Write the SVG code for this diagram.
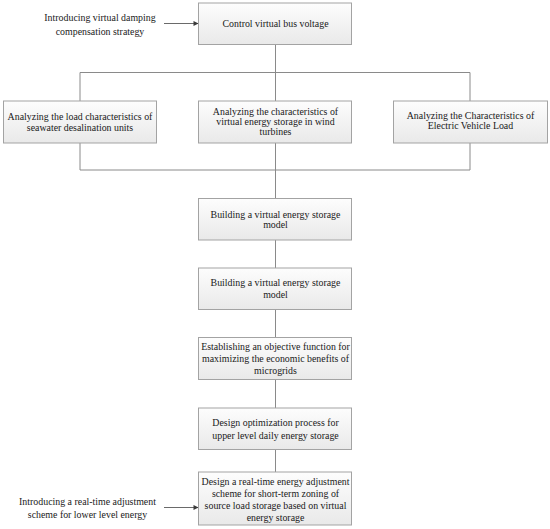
<svg xmlns="http://www.w3.org/2000/svg" width="550" height="529" viewBox="0 0 550 529">
<defs>
<linearGradient id="g" x1="0" y1="0" x2="0" y2="1">
<stop offset="0" stop-color="#fdfdfd"/>
<stop offset="1" stop-color="#e9e9e9"/>
</linearGradient>
<marker id="ah" viewBox="0 0 10 10" refX="10" refY="5" markerWidth="7" markerHeight="5" markerUnits="userSpaceOnUse" orient="auto">
<path d="M0,0 L10,5 L0,10 z" fill="#3a3a3a"/>
</marker>
</defs>
<style>
.box{fill:url(#g);stroke:#a3a3a3;stroke-width:1}
.t{font-family:"Liberation Serif","Times New Roman",serif;font-size:9.9px;fill:#1a1a1a;text-anchor:middle}
.c{stroke:#8a8a8a;stroke-width:1;fill:none}
.a{stroke:#6a6a6a;stroke-width:1;fill:none;marker-end:url(#ah)}
</style>
<rect width="550" height="529" fill="#ffffff"/>
<g id="connectors">
<path class="c" d="M275.5,44.5 V72.5 M80,72.5 H470 M80,72.5 V101 M275.5,72.5 V101 M470,72.5 V101"/>
<path class="c" d="M80,143 V170 M275.5,143 V170 M470,143 V170 M80,170 H470 M275.5,170 V198.5"/>
<path class="c" d="M275.5,240 V268 M275.5,309.5 V337.5 M275.5,379.5 V408 M275.5,449.5 V472"/>
<path class="a" d="M164,23.5 H198.5"/>
<path class="a" d="M164,507.5 H198.5"/>
</g>
<g id="note-top">
<text class="t" x="100" y="21">Introducing virtual damping</text>
<text class="t" x="100" y="34.5">compensation strategy</text>
</g>
<g id="note-bottom">
<text class="t" x="87.5" y="504.5">Introducing a real-time adjustment</text>
<text class="t" x="87.5" y="517.5">scheme for lower level energy</text>
</g>
<g id="n1">
<rect class="box" x="198.5" y="3" width="153" height="41.5"/>
<text class="t" x="275.5" y="27">Control virtual bus voltage</text>
</g>
<g id="n2">
<rect class="box" x="3.5" y="101" width="153" height="42"/>
<text class="t" x="80" y="119.5">Analyzing the load characteristics of</text>
<text class="t" x="80" y="130.5">seawater desalination units</text>
</g>
<g id="n3">
<rect class="box" x="198.5" y="101" width="153" height="42"/>
<text class="t" x="275.5" y="114.7">Analyzing the characteristics of</text>
<text class="t" x="275.5" y="124.7">virtual energy storage in wind</text>
<text class="t" x="275.5" y="134.7">turbines</text>
</g>
<g id="n4">
<rect class="box" x="393.5" y="101" width="154" height="42"/>
<text class="t" x="470.5" y="119.2">Analyzing the Characteristics of</text>
<text class="t" x="470.5" y="129.2">Electric Vehicle Load</text>
</g>
<g id="n5">
<rect class="box" x="198.5" y="198.5" width="153" height="41.5"/>
<text class="t" x="275.5" y="217.5">Building a virtual energy storage</text>
<text class="t" x="275.5" y="228">model</text>
</g>
<g id="n6">
<rect class="box" x="198.5" y="268" width="153" height="41.5"/>
<text class="t" x="275.5" y="286">Building a virtual energy storage</text>
<text class="t" x="275.5" y="297.5">model</text>
</g>
<g id="n7">
<rect class="box" x="198.5" y="337.5" width="153" height="42"/>
<text class="t" x="275.5" y="350">Establishing an objective function for</text>
<text class="t" x="275.5" y="362">maximizing the economic benefits of</text>
<text class="t" x="275.5" y="374">microgrids</text>
</g>
<g id="n8">
<rect class="box" x="198.5" y="408" width="153" height="41.5"/>
<text class="t" x="275.5" y="426">Design optimization process for</text>
<text class="t" x="275.5" y="438.5">upper level daily energy storage</text>
</g>
<g id="n9">
<rect class="box" x="198.5" y="472" width="153" height="53"/>
<text class="t" x="275.5" y="484.5">Design a real-time energy adjustment</text>
<text class="t" x="275.5" y="496.5">scheme for short-term zoning of</text>
<text class="t" x="275.5" y="508.5">source load storage based on virtual</text>
<text class="t" x="275.5" y="520.5">energy storage</text>
</g>
</svg>
